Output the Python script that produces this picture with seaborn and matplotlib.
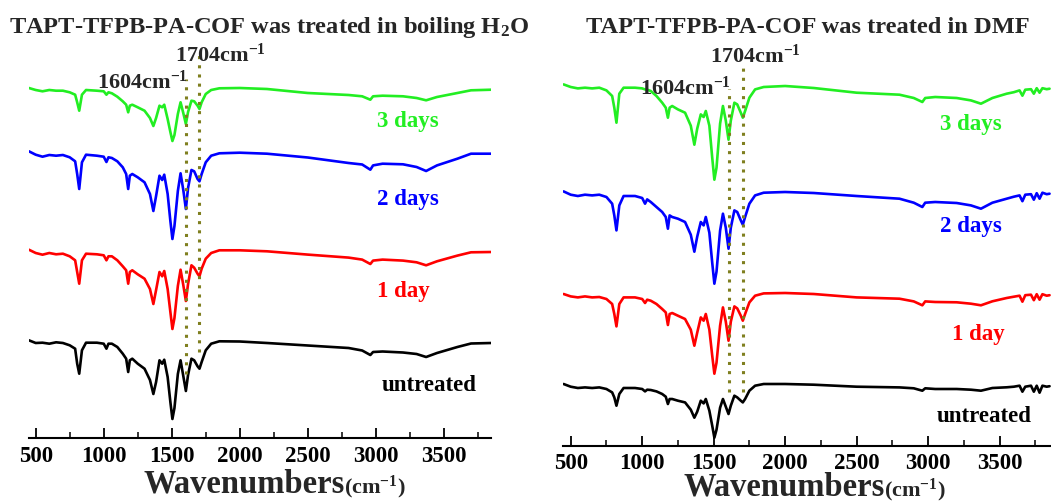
import matplotlib
matplotlib.use("Agg")
import matplotlib.pyplot as plt
import numpy as np
import pandas as pd
import seaborn as sns
from matplotlib.ticker import MultipleLocator

# ---------------- data (relative transmittance, arbitrary units) ----------------
WN_LEFT = [450, 500, 550, 600, 650, 700, 750, 790, 805, 820, 840, 870, 950, 1000, 1020, 1035, 1060,
           1100, 1140, 1165, 1180, 1192, 1210, 1250, 1300, 1340, 1365, 1385, 1410, 1430, 1445, 1470,
           1490, 1505, 1520, 1545, 1565, 1585, 1604, 1620, 1645, 1665, 1690, 1704, 1720, 1750, 1790,
           1850, 2000, 2200, 2500, 2800, 2900, 2960, 2980, 3050, 3200, 3300, 3370, 3450, 3600, 3700,
           3850]

H2O_UNTREATED = [1.7, -1, -0.7, -1.7, -0.3, -1, -3.3, -6.7, -21.7, -31.7, -8.3, -0.7, -0.7, -1.7, -6.7,
                 -1.7, -1.7, -5, -11.7, -16.7, -30, -18.3, -16.7, -21.7, -26.7, -38, -52, -40, -18.3,
                 -21.7, -17.7, -35, -60, -77, -66, -32, -18.3, -34, -49, -33, -16.7, -18.3,
                 -24.3, -26.7, -20, -8.3, -1.7, 0.7, 0.5, -1, -3.5, -6, -8.5, -13, -10, -9.5, -10.5, -12,
                 -15, -11, -5, -1.5, -1]
H2O_1DAY = [2.3, -1, -2.7, -1, -2.3, -1.7, -4.3, -8.3, -20, -31.7, -8.3, -1.7, -2.3, -3.3, -8.3, -4.3,
            -4.3, -8.3, -14.3, -18.3, -31.7, -20, -18.3, -22.3, -26.7, -37, -52, -38, -20, -24.3,
            -19, -37, -60, -77, -66, -34, -17.7, -33, -49, -32, -13.3, -15.7, -21.7,
            -24.3, -16.7, -6.7, -1, 1.7, 1.7, 0.7, -2.6, -5.6, -7.6, -12, -8.6, -7.6, -8.6, -10.3,
            -13.3, -9.3, -3.6, -0.3, 0]
H2O_2DAYS = [2.7, -0.7, -2.7, -1, -1.7, -1, -3.3, -7.3, -20, -35, -8.3, -0.7, -1.7, -2.7, -8, -3.3, -4,
             -7.3, -13.3, -20, -35, -21.7, -20, -23.3, -28.3, -40, -57, -42, -21.7, -26, -20.7,
             -40, -67, -85, -72, -37, -19.3, -36, -55, -34, -16, -17.3, -25, -27.3, -20, -8.3,
             -1.7, 0.7, 1.3, 0.3, -3.5, -9, -10.5, -15.7, -11.4, -9.7, -10.3, -13, -17, -11.4, -4.7,
             0.3, 0.3]
H2O_3DAYS = [1, -1, -2.3, -1, -1.7, -1.7, -3.3, -5.7, -13.3, -21.7, -5.7, -1, -1.7, -2.3, -5.7, -3.3,
             -4.3, -7.7, -12.3, -15.7, -23.3, -16.7, -15.7, -18.3, -21.7, -29, -37, -29, -16.7,
             -18.3, -15.7, -30, -43, -52, -46, -25, -13.3, -24, -35, -23, -11.7, -12.3,
             -16.7, -20, -13.3, -5, -1, 0.7, 1, 0, -4, -6, -7.3, -10.7, -7.3, -6.7, -7.3, -9, -11.3,
             -8, -4, -1.3, -0.7]

WN_RIGHT = [450, 500, 550, 600, 650, 700, 750, 790, 805, 820, 840, 870, 950, 1000, 1020, 1035, 1060,
            1100, 1140, 1165, 1180, 1192, 1210, 1250, 1300, 1340, 1365, 1385, 1410, 1430, 1445, 1470,
            1490, 1505, 1520, 1545, 1565, 1585, 1604, 1620, 1645, 1665, 1690, 1704, 1720, 1750, 1790,
            1850, 2000, 2200, 2500, 2800, 2900, 2960, 2980, 3050, 3200, 3300, 3370, 3450, 3550, 3600,
            3640, 3660, 3680, 3720, 3740, 3760, 3780, 3800, 3830, 3850]

DMF_UNTREATED = [1.7, -1, -2.3, -1.7, -2.3, -1.7, -3.3, -6.7, -11.7, -20, -8.3, -2.3, -2.3, -3.3, -5.7,
                 -4, -4.3, -5.7, -8.3, -11, -18.3, -13.3, -13.3, -15, -16.7, -24, -32, -26, -15,
                 -17.7, -13.3, -25, -40, -52, -44, -22, -13.3, -21, -28.3, -20, -10, -11.7,
                 -15, -16.7, -13.3, -5, 0, 1.7, 1.7, 1, -1, -1.7, -2.6, -5, -2.6, -3.3, -3.3, -4, -5,
                 -2.3, -1.6, -1, 0, -6, -1, 0, -6, 0, -7, 0, -1, -0.5]
DMF_1DAY = [1.7, -0.7, -1.7, -0.7, -1.7, -1.3, -3.3, -8.3, -18.3, -30.7, -8.3, -1.7, -1.7, -3.3, -7.3,
            -4, -5, -8.3, -13.3, -16.7, -29.3, -18.3, -17.3, -20, -23.3, -34, -50, -37, -21.7,
            -25, -18.3, -34, -60, -78, -67, -30, -11.7, -26, -45, -26, -10.7, -12.7, -20,
            -25, -18.3, -6.7, 0, 2.3, 2.7, 1.7, -1.7, -3, -5.7, -9.6, -5.7, -6.3, -6.6, -8, -9.6,
            -5.6, -2.3, -1, 0, -6, 0.5, 1, -4.5, 1.5, -4, 1.5, 0, 0.5]
DMF_2DAYS = [1.3, -2, -3.3, -2, -2.7, -2, -4.3, -11, -22.7, -37.7, -12.7, -3.3, -3.3, -5.3, -11, -6.7,
             -9.3, -14.3, -19.3, -24.3, -36, -22.7, -24.3, -26, -29.3, -42, -59, -44, -29.3,
             -32.7, -24.3, -40, -70, -91, -79, -38, -21, -35, -56, -35, -17.7, -19.3, -27.7,
             -32, -24.3, -11, -2.7, 0, 0.7, -0.3, -3.3, -6, -10, -14.3, -10, -9.3, -10.3, -12.7, -16,
             -10, -6, -4, -2.7, -8.5, -2, -1.5, -7, -0.5, -6, 0, -1.5, -1]
DMF_3DAYS = [3.3, 0.7, -0.7, 0, -0.7, 0, -2.7, -8.3, -20, -35, -6, 0, 0, -0.7, -1.7, -2, -3.3, -8.3,
             -15, -20, -30, -20, -18.3, -21.7, -25, -38, -57, -41, -26.7, -29.3, -23.3, -38,
             -70, -92, -80, -36, -18.3, -33, -52, -33, -15, -16.7, -25, -30, -23.3, -10, -1.7,
             0.7, 1.7, -0.3, -5, -7, -10.3, -14.3, -10.3, -9.3, -10.3, -12.7, -16, -10.3, -6, -4.5,
             -2.7, -8, -2, -1.5, -6, -0.5, -5, -0.5, -1.5, -1]

SAMPLES = ["untreated", "1 day", "2 days", "3 days"]
COLORS = {"untreated": "#000000", "1 day": "#ff0000", "2 days": "#0000ff", "3 days": "#22ee22"}

# ---------------- style ----------------
sns.set_theme(style="white")
plt.rcParams["font.family"] = ["Liberation Serif", "DejaVu Serif"]
plt.rcParams["font.weight"] = "bold"
plt.rcParams["mathtext.default"] = "regular"

FW, FH = 1051, 502
fig = plt.figure(figsize=(FW / 100, FH / 100), dpi=100)


def build(wn, series):
    frames = []
    for name, vals in zip(SAMPLES, series):
        frames.append(pd.DataFrame({"wavenumber": wn, "signal": vals, "sample": name}))
    return pd.concat(frames, ignore_index=True)


panels = [
    dict(rect=[29.3, 63, 461.7, 439], xlim=(453, 3847),
         data=build(WN_LEFT, [H2O_UNTREATED, H2O_1DAY, H2O_2DAYS, H2O_3DAYS]),
         offsets={"untreated": 96, "1 day": 186, "2 days": 284, "3 days": 349},
         labels={"untreated": (3044, 48), "1 day": (3006, 142), "2 days": (3006, 234), "3 days": (3006, 312)},
         ann1704=(1524, 377), ann1604=(948, 350),
         vl1704=(86, 387), vl1604=(64, 359),
         title="TAPT-TFPB-PA-COF was treated in boiling H$_2$O", title_x=269,
         xlab=(143, 493), pad=5),
    dict(rect=[562.7, 55.3, 488.3, 446.7], xlim=(444, 3860),
         data=build(WN_RIGHT, [DMF_UNTREATED, DMF_1DAY, DMF_2DAYS, DMF_3DAYS]),
         offsets={"untreated": 60, "1 day": 150, "2 days": 253, "3 days": 358},
         labels={"untreated": (3059, 25), "1 day": (3164, 107), "2 days": (3083, 215), "3 days": (3083, 317)},
         ann1704=(1474, 384), ann1604=(985, 352),
         vl1704=(54, 384), vl1604=(54, 357),
         title="TAPT-TFPB-PA-COF was treated in DMF", title_x=808,
         xlab=(683, 496), pad=4.5),
]

for p in panels:
    l, b, w, h = p["rect"]
    ax = fig.add_axes([l / FW, b / FH, w / FW, h / FH])
    df = p["data"]
    df["y"] = df["signal"] + df["sample"].map(p["offsets"])
    sns.lineplot(data=df, x="wavenumber", y="y", hue="sample", palette=COLORS,
                 estimator=None, legend=False, linewidth=1.9, ax=ax)
    ax.set_xlim(*p["xlim"])
    ax.set_ylim(0, h)
    # dotted marker lines
    ax.plot([1604, 1604], p["vl1604"], linestyle=(0, (1, 2)), color="#7f7f1f", linewidth=2.2)
    ax.plot([1704, 1704], p["vl1704"], linestyle=(0, (1, 2)), color="#7f7f1f", linewidth=2.2)
    ax.text(*p["ann1704"], "1704cm$^{-1}$", fontsize=16, fontweight="bold", ha="left", va="baseline")
    ax.text(*p["ann1604"], "1604cm$^{-1}$", fontsize=16, fontweight="bold", ha="left", va="baseline")
    for name, (tx, ty) in p["labels"].items():
        ax.text(tx, ty, name, color=COLORS[name], fontsize=16.5, fontweight="bold",
                ha="left", va="baseline")
    # axes styling
    for s in ["top", "left", "right"]:
        ax.spines[s].set_visible(False)
    ax.spines["bottom"].set_linewidth(1.5)
    ax.spines["bottom"].set_color("black")
    ax.set_yticks([])
    ax.set_ylabel("")
    ax.set_xlabel("")
    ax.xaxis.set_major_locator(MultipleLocator(500))
    ax.xaxis.set_minor_locator(MultipleLocator(250))
    ax.tick_params(axis="x", which="major", direction="in", length=7, width=1.3,
                   labelsize=16.5, pad=p["pad"], bottom=True, colors="black")
    ax.tick_params(axis="x", which="minor", direction="in", length=4, width=1.3, bottom=True)
    for t in ax.get_xticklabels():
        t.set_fontweight("bold")
    ax.patch.set_alpha(0)
    # title
    fig.text(p["title_x"] / FW, (FH - 33) / FH, p["title"], fontsize=17.6, fontweight="bold",
             ha="center", va="baseline")
    # x label: big "Wavenumbers" + smaller "(cm-1)"
    xl, yl = p["xlab"]
    t1 = fig.text(xl / FW, (FH - yl) / FH, "Wavenumbers", fontsize=23.5, fontweight="bold",
                  ha="left", va="baseline")
    r = fig.canvas.get_renderer()
    bb = t1.get_window_extent(r)
    fig.text(bb.x1 / FW, (FH - yl) / FH, "(cm$^{-1}$)", fontsize=16, fontweight="bold",
             ha="left", va="baseline")

fig.savefig("out.png", dpi=100)
